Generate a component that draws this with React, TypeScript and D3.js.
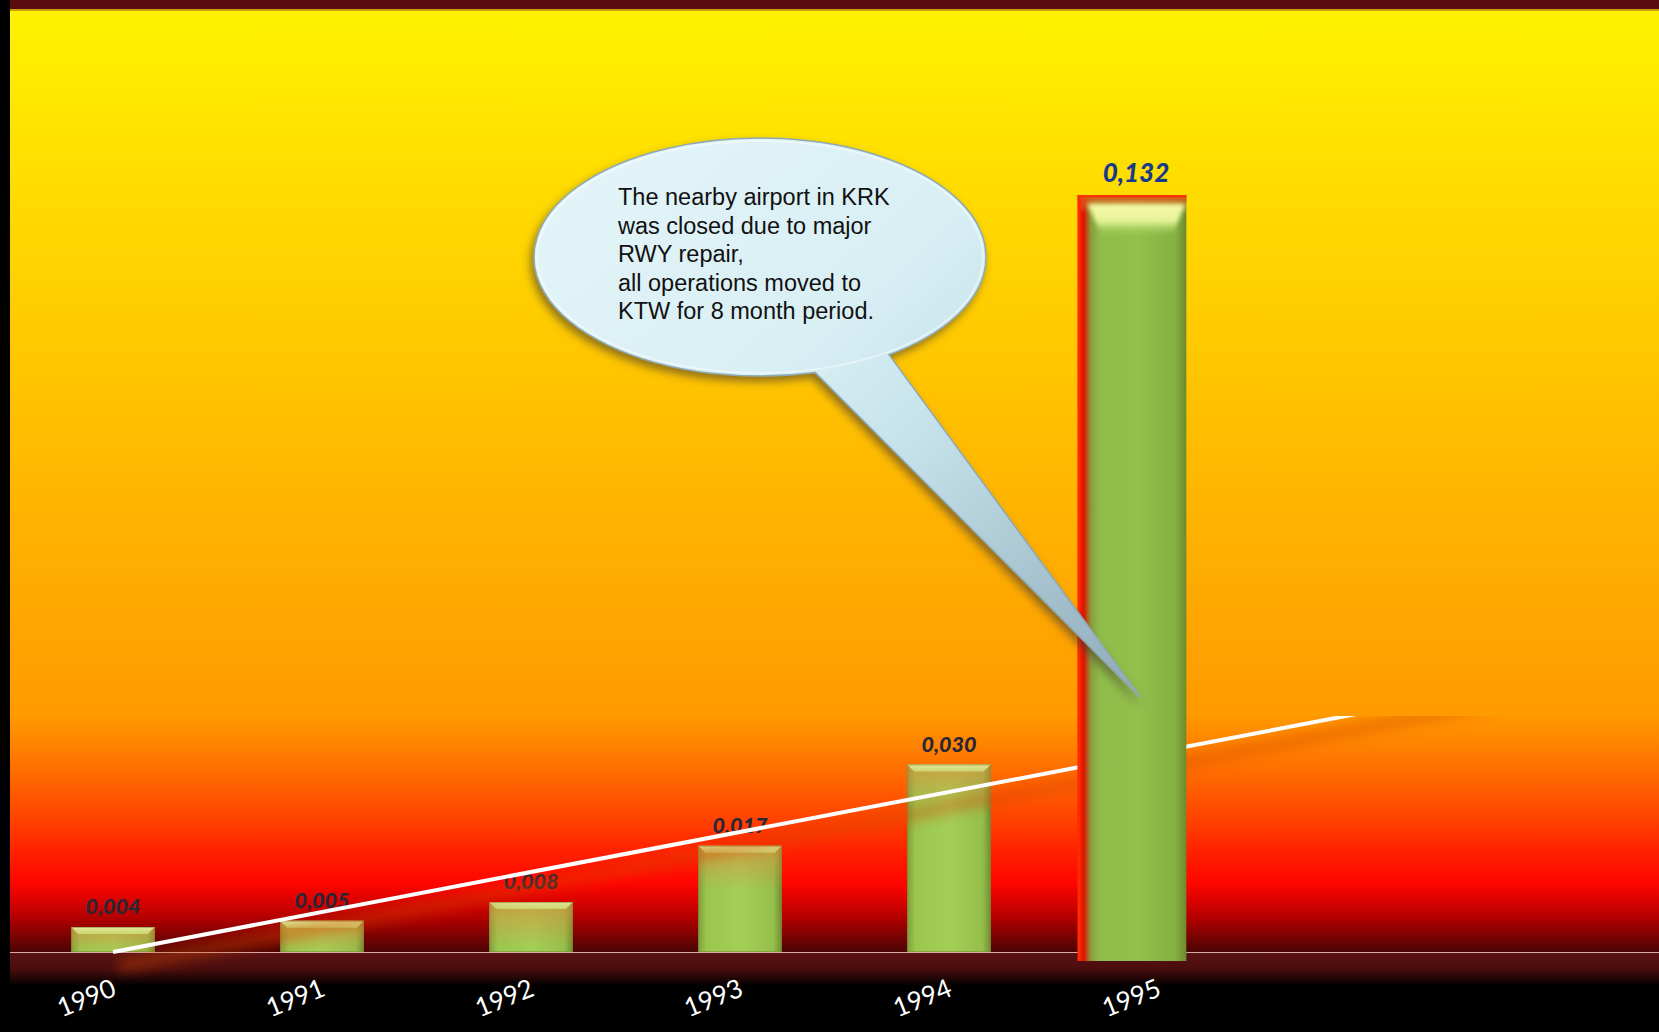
import React from 'react';
import * as d3 from 'd3';

const years = ['1990', '1991', '1992', '1993', '1994', '1995'];
const values = [0.004, 0.005, 0.008, 0.017, 0.03, 0.132];
const valueLabels = ['0,004', '0,005', '0,008', '0,017', '0,030', '0,132'];
const highlightYear = '1995';
const trendBasisCount = 5; // linear trend fitted on 1990-1994
const calloutLines = [
  'The nearby airport in KRK',
  'was closed due to major',
  'RWY repair,',
  'all operations moved to',
  'KTW for 8 month period.',
];

const W = 1659;
const H = 1032;
const LEFT = 10;
const TOP = 11;
const BASE = 952;
const SPLIT = 716;

export default function App() {
  const x = d3
    .scaleBand<string>()
    .domain(years)
    .range([8.5, 1262.5])
    .paddingInner(0.6)
    .paddingOuter(0.3);
  const bw = x.bandwidth();
  const step = x.step();
  const y = d3.scaleLinear().domain([0, 0.03]).range([BASE, 764.5]);
  const yHi = d3.scaleLinear().domain([0, 0.132]).range([961, 195]);

  // linear regression (trendline) over first five points
  const tv = values.slice(0, trendBasisCount);
  const idx = tv.map((_, i) => i);
  const mx = d3.mean(idx) as number;
  const my = d3.mean(tv) as number;
  const slope =
    d3.sum(idx.map((i) => (i - mx) * (tv[i] - my))) /
    d3.sum(idx.map((i) => (i - mx) * (i - mx)));
  const intercept = my - slope * mx;
  const cx0 = (x(years[0]) as number) + bw / 2;
  const trendPts: [number, number][] = [0, 6.6].map((i) => [
    cx0 + i * step,
    y(intercept + slope * i),
  ]);
  const line = d3.line();

  const hiScale = 1.3;
  const hiW = bw * hiScale;
  const hiCenter = (x(highlightYear) as number) + bw / 2 - 26;
  const hiLeft = hiCenter - hiW / 2;
  const hiVal = values[years.indexOf(highlightYear)];
  const hiTop = yHi(hiVal);
  const hiBottom = yHi(0);

  // callout geometry
  const ecx = 760,
    ecy = 257,
    erx = 226,
    ery = 119;
  const tL = (75.9 * Math.PI) / 180;
  const tR = (55.2 * Math.PI) / 180;
  const lb = [ecx + erx * Math.cos(tL), ecy + ery * Math.sin(tL)];
  const rb = [ecx + erx * Math.cos(tR), ecy + ery * Math.sin(tR)];
  const tip = [hiCenter + 9, 698];
  const bubblePath = `M${tip[0]},${tip[1]} L${lb[0]},${lb[1]} A${erx},${ery} 0 1 1 ${rb[0]},${rb[1]} Z`;

  return (
    <svg
      width={W}
      height={H}
      style={{ position: 'absolute', left: 0, top: 0, display: 'block' }}
    >
      <defs>
        <linearGradient id="upperBg" x1="0" y1={TOP} x2="0" y2={SPLIT} gradientUnits="userSpaceOnUse">
          <stop offset="0" stopColor="#fff200" />
          <stop offset="0.5" stopColor="#ffc600" />
          <stop offset="1" stopColor="#ff9a00" />
        </linearGradient>
        <linearGradient id="lowerBg" x1="0" y1={SPLIT} x2="0" y2={BASE} gradientUnits="userSpaceOnUse">
          <stop offset="0" stopColor="#ff9800" />
          <stop offset="0.15" stopColor="#ff7e00" />
          <stop offset="0.43" stopColor="#ff4400" />
          <stop offset="0.57" stopColor="#ff2200" />
          <stop offset="0.71" stopColor="#ff0500" />
          <stop offset="0.86" stopColor="#b00000" />
          <stop offset="1" stopColor="#4a0404" />
        </linearGradient>
        <linearGradient id="floorBg" x1="0" y1={BASE} x2="0" y2={BASE + 34} gradientUnits="userSpaceOnUse">
          <stop offset="0" stopColor="#5a1212" />
          <stop offset="0.5" stopColor="#4a0d0d" />
          <stop offset="1" stopColor="#000000" />
        </linearGradient>
        <linearGradient id="barGrad" x1="0" y1="0" x2="1" y2="0">
          <stop offset="0" stopColor="#7f9f3a" />
          <stop offset="0.1" stopColor="#9bc64e" />
          <stop offset="0.5" stopColor="#a4cf56" />
          <stop offset="0.9" stopColor="#95bf4b" />
          <stop offset="1" stopColor="#6f8d30" />
        </linearGradient>
        <linearGradient id="barReflect" x1="0" y1="0" x2="0" y2="1">
          <stop offset="0" stopColor="#e08a3a" stopOpacity="0.65" />
          <stop offset="1" stopColor="#e08a3a" stopOpacity="0" />
        </linearGradient>
        <linearGradient id="hiGrad" x1="0" y1="0" x2="1" y2="0">
          <stop offset="0" stopColor="#ff1a00" />
          <stop offset="0.06" stopColor="#d81a00" />
          <stop offset="0.12" stopColor="#8c9a3a" />
          <stop offset="0.2" stopColor="#8fbc4a" />
          <stop offset="0.55" stopColor="#93c04c" />
          <stop offset="0.9" stopColor="#86b043" />
          <stop offset="1" stopColor="#6b8a2c" />
        </linearGradient>
        <linearGradient id="hiTopGrad" x1="0" y1="0" x2="0" y2="1">
          <stop offset="0" stopColor="#e84208" />
          <stop offset="0.5" stopColor="#d86a20" stopOpacity="0.6" />
          <stop offset="1" stopColor="#d8a040" stopOpacity="0" />
        </linearGradient>
        <linearGradient id="hiBevel" x1="0" y1="0" x2="0" y2="1">
          <stop offset="0" stopColor="#f6f9a8" />
          <stop offset="0.55" stopColor="#e6f49a" />
          <stop offset="1" stopColor="#a8d45c" stopOpacity="0" />
        </linearGradient>
        <linearGradient id="bevel" x1="0" y1="0" x2="0" y2="1">
          <stop offset="0" stopColor="#f0f8b0" />
          <stop offset="1" stopColor="#c8e27a" />
        </linearGradient>
        <linearGradient id="bubbleGrad" x1="640" y1="140" x2={tip[0]} y2={tip[1]} gradientUnits="userSpaceOnUse">
          <stop offset="0" stopColor="#e2f4f8" />
          <stop offset="0.35" stopColor="#d8eff4" />
          <stop offset="0.55" stopColor="#c4e1ea" />
          <stop offset="1" stopColor="#8ea9b8" />
        </linearGradient>
        <filter id="bubbleShadow" x="-20%" y="-20%" width="140%" height="140%">
          <feDropShadow dx="-3" dy="5" stdDeviation="4" floodColor="#4a3e2a" floodOpacity="0.6" />
        </filter>
        <filter id="blur6" x="-20%" y="-200%" width="140%" height="500%">
          <feGaussianBlur stdDeviation="6" />
        </filter>
        <filter id="blur2" x="-20%" y="-20%" width="140%" height="140%">
          <feGaussianBlur stdDeviation="2" />
        </filter>
      </defs>

      {/* base backgrounds */}
      <rect x={0} y={0} width={W} height={H} fill="#000" />
      <rect x={LEFT} y={SPLIT} width={W - LEFT} height={BASE - SPLIT} fill="url(#lowerBg)" />
      <rect x={LEFT} y={BASE} width={W - LEFT} height={34} fill="url(#floorBg)" />
      <line x1={LEFT} x2={W} y1={BASE + 0.5} y2={BASE + 0.5} stroke="#d9aaaa" strokeWidth={1.2} />

      {/* regular bars */}
      {years.map((yr, i) => {
        if (yr === highlightYear) return null;
        const bx = x(yr) as number;
        const top = y(values[i]);
        const h = BASE - top;
        const bev = Math.min(7, h / 3);
        return (
          <g key={yr}>
            <rect x={bx} y={top} width={bw} height={h} fill="url(#barGrad)" />
            <rect x={bx} y={top} width={bw} height={Math.min(h, 45)} fill="url(#barReflect)" />
            <polygon
              points={`${bx},${top} ${bx + bw},${top} ${bx + bw - bev},${top + bev} ${bx + bev},${top + bev}`}
              fill="url(#bevel)"
              opacity={0.8}
            />
            <rect x={bx + 0.5} y={top + 0.5} width={bw - 1} height={h - 1} fill="none" stroke="#7d8f34" strokeOpacity={0.6} />
          </g>
        );
      })}

      {/* value labels (regular) */}
      {years.map((yr, i) => {
        if (yr === highlightYear) return null;
        const bx = (x(yr) as number) + bw / 2;
        return (
          <text
            key={yr}
            x={bx}
            y={y(values[i]) - 13}
            textAnchor="middle"
            fontFamily="Lato, 'Open Sans', sans-serif"
            fontWeight="900"
            fontStyle="italic"
            fontSize={21.5}
            fill="#2a2636"
          >
            {valueLabels[i]}
          </text>
        );
      })}

      {/* trend line */}
      <path
        d={line(trendPts.map(([a, b]) => [a + 6, b + 14]) as [number, number][]) as string}
        stroke="#d84800"
        strokeWidth={14}
        strokeOpacity={0.38}
        fill="none"
        filter="url(#blur6)"
      />
      <path d={line(trendPts) as string} stroke="#ffffff" strokeWidth={4} fill="none" />

      {/* upper background (covers the trend beyond) */}
      <rect x={LEFT} y={TOP} width={W - LEFT} height={SPLIT - TOP} fill="url(#upperBg)" />
      <rect x={0} y={0} width={W} height={9} fill="#5a0c0e" />
      <rect x={LEFT} y={9} width={W - LEFT} height={2} fill="#c9a000" />
      <rect x={0} y={0} width={LEFT} height={H} fill="#000" />

      {/* highlighted 1995 bar */}
      <g>
        <rect x={hiLeft} y={hiTop} width={hiW} height={hiBottom - hiTop} fill="url(#hiGrad)" />
        <rect x={hiLeft} y={hiTop} width={hiW} height={18} fill="url(#hiTopGrad)" />
        <polygon
          points={`${hiLeft + 10},${hiTop + 9} ${hiLeft + hiW - 1},${hiTop + 9} ${hiLeft + hiW - 14},${hiTop + 40} ${hiLeft + 24},${hiTop + 40}`}
          fill="url(#hiBevel)"
          filter="url(#blur2)"
        />
        <rect x={hiLeft} y={hiTop} width={3} height={hiBottom - hiTop} fill="#ff2a00" />
        <rect x={hiLeft} y={hiTop} width={hiW} height={2} fill="#ff3000" />
      </g>
      <text
        x={hiCenter + 4}
        y={hiTop - 13}
        textAnchor="middle"
        fontFamily="Lato, 'Open Sans', sans-serif"
        fontWeight="900"
        fontStyle="italic"
        fontSize={26}
        fill="#173a8c"
      >
        {valueLabels[years.indexOf(highlightYear)]}
      </text>

      {/* callout bubble */}
      <path d={bubblePath} fill="url(#bubbleGrad)" stroke="#8ea8b4" strokeWidth={1.5} filter="url(#bubbleShadow)" />
      <ellipse cx={ecx} cy={ecy} rx={erx - 3} ry={ery - 3} fill="none" stroke="#ffffff" strokeOpacity={0.45} strokeWidth={2} />
      <text fontFamily="'Liberation Sans', Arial, sans-serif" fontSize={23.5} fill="#111">
        {calloutLines.map((t, i) => (
          <tspan key={i} x={618} y={205 + i * 28.5}>
            {t}
          </tspan>
        ))}
      </text>

      {/* year axis labels */}
      {years.map((yr) => {
        const cx = (x(yr) as number) + bw / 2 - 27;
        const cy = 997;
        return (
          <text
            key={yr}
            x={cx}
            y={cy}
            textAnchor="middle"
            dominantBaseline="central"
            transform={`rotate(-22 ${cx} ${cy})`}
            fontFamily="Lato, 'Open Sans', sans-serif"
            fontSize={26}
            fill="#ffffff"
          >
            {yr}
          </text>
        );
      })}
    </svg>
  );
}
